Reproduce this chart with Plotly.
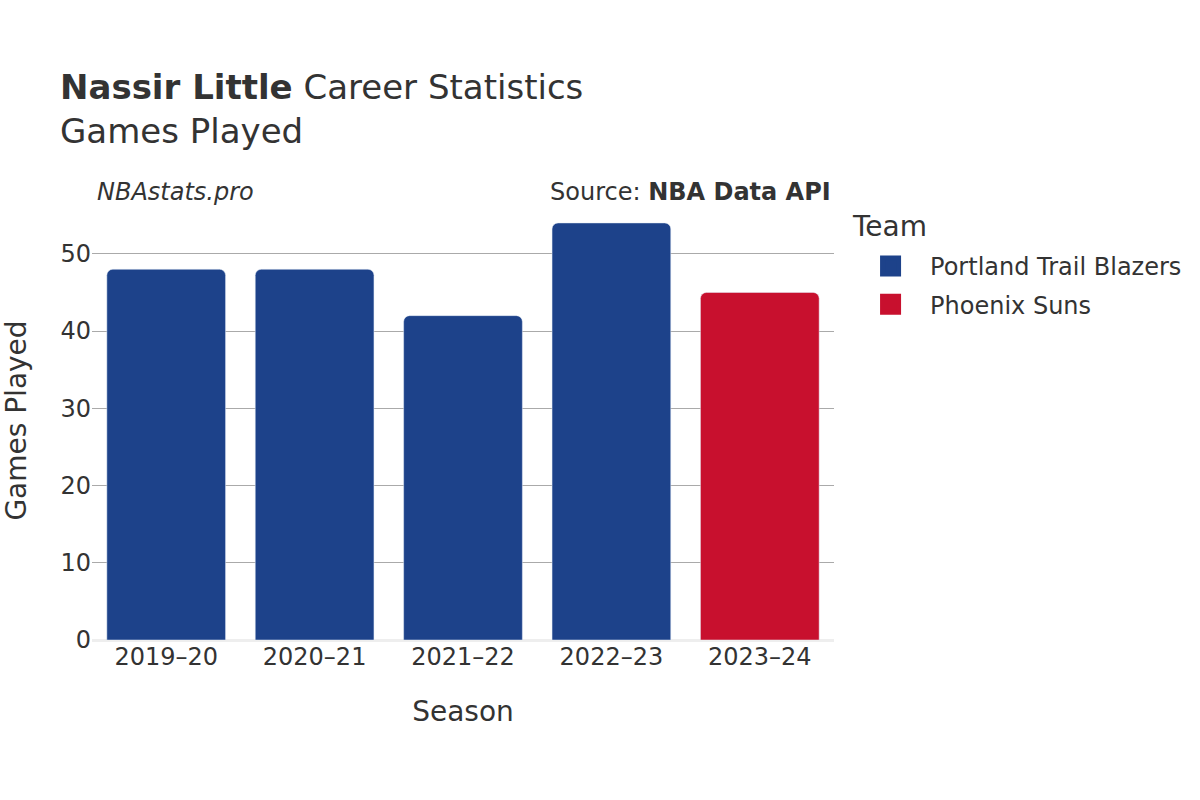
import plotly.graph_objects as go

seasons = ["2019–20", "2020–21", "2021–22", "2022–23", "2023–24"]
games_played = [48, 48, 42, 54, 45]
teams = ["Portland Trail Blazers", "Portland Trail Blazers", "Portland Trail Blazers",
         "Portland Trail Blazers", "Phoenix Suns"]
team_order = ["Portland Trail Blazers", "Phoenix Suns"]
team_colors = {"Portland Trail Blazers": "#1D428A", "Phoenix Suns": "#C8102E"}

FONT = "DejaVu Sans"
TXT = "#333333"

fig = go.Figure()
for team in team_order:
    xs = [s for s, t in zip(seasons, teams) if t == team]
    ys = [g for g, t in zip(games_played, teams) if t == team]
    c = team_colors[team]
    fig.add_trace(go.Bar(x=xs, y=ys, name=team, marker_color=c,
                         legendgroup=team, showlegend=False))
    # legend-only entry with a larger swatch
    fig.add_trace(go.Scatter(x=[None], y=[None], mode="markers", name=team,
                             legendgroup=team, showlegend=True,
                             marker=dict(symbol="square", size=16, color=c,
                                         line=dict(color=c, width=5))))

fig.update_layout(
    width=1200, height=800,
    paper_bgcolor="white", plot_bgcolor="white",
    font=dict(family=FONT, color=TXT, size=24),
    barmode="relative", bargap=0.2, barcornerradius=6,
    margin=dict(l=92, r=366, t=201, b=160),
    title=dict(
        text="<b>Nassir Little</b> Career Statistics<br>Games Played",
        x=0.05, xanchor="left", y=0.876, yanchor="top",
        font=dict(size=34, color=TXT, family=FONT),
    ),
    legend=dict(
        x=1.023, xanchor="left", y=0.902, yanchor="top",
        font=dict(size=24), tracegroupgap=4, itemwidth=69,
    ),
    xaxis=dict(
        categoryorder="array", categoryarray=seasons, automargin=False,
        title=dict(text="Season", font=dict(size=28), standoff=31),
        tickfont=dict(size=24), showgrid=False, ticks="",
    ),
    yaxis=dict(
        automargin=False,
        title=dict(text="Games Played", font=dict(size=28), standoff=35),
        tickfont=dict(size=24), gridcolor="#aaaaaa", gridwidth=1,
        zeroline=True, zerolinecolor="#eeeeee", zerolinewidth=3,
        dtick=10, ticks="",
    ),
    annotations=[
        dict(text="<i>NBAstats.pro</i>", xref="paper", yref="paper", x=0.004, y=0.985,
             xanchor="left", yanchor="bottom", showarrow=False, font=dict(size=24)),
        dict(text="Source: <b>NBA Data API</b>", xref="paper", yref="paper", x=0.998, y=0.985,
             xanchor="right", yanchor="bottom", showarrow=False, font=dict(size=24)),
        dict(text="Team", xref="paper", yref="paper", x=1.022, y=0.943,
             xanchor="left", yanchor="middle", showarrow=False, font=dict(size=28)),
    ],
)

fig.write_html("out.html", config={"displayModeBar": False},
               post_script="document.body.style.margin='0';")
